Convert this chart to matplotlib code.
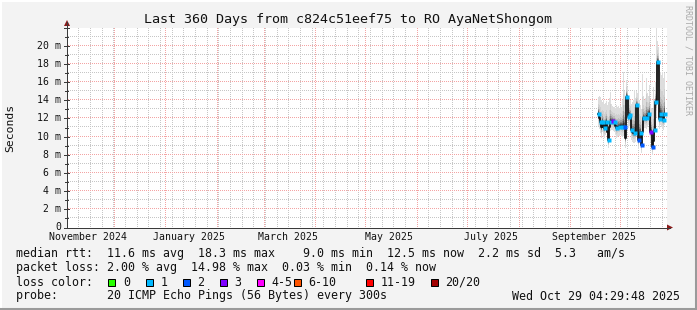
import matplotlib
matplotlib.use('Agg')
import matplotlib.pyplot as plt
import matplotlib.dates as mdates
from matplotlib.patches import Rectangle, Polygon
from matplotlib.lines import Line2D
import numpy as np
import pandas as pd
from datetime import datetime, timedelta

# ---------------- data ----------------
end_time = datetime(2025, 10, 29, 4, 29, 48)
span_days = 360
data_start = '2025-09-18 00:00'
data_step = '864min'   # one graph column (0.6 days)

median_ms = [12.5, 12.0, 11.6, 11.0, 11.6, 11.0, 10.9, 11.3, 11.6, 10.5,
             9.6, 11.0, 11.6, 11.7, 11.7, 11.6, 11.6, 11.2, 10.9, 11.0,
             11.1, 11.1, 11.2, 11.2, 11.1, 11.15, 11.1, 9.8, 14.4, 14.4,
             12.2, 12.4, 12.3, 10.7, 10.5, 10.4, 10.4, 10.4, 13.5, 13.4,
             9.6, 10.3, 10.35, 9.1, 10.5, 12.0, 12.0, 12.0, 12.0, 12.3,
             12.5, 12.5, 10.5, 10.5, 8.9, 9.5, 10.7, 13.8, 13.8, 18.2,
             18.2, 11.9, 12.5, 12.3, 11.9, 11.8, 12.5]
max_ms = [14.4, 14.5, 14.3, 14.0, 13.8, 14.0, 13.6, 13.7, 13.9, 13.5,
          13.8, 14.2, 14.9, 13.6, 13.4, 13.3, 13.3, 13.2, 13.5, 13.3,
          13.4, 13.2, 13.5, 13.3, 14.0, 17.1, 15.0, 13.5, 16.2, 15.5,
          14.5, 14.2, 14.0, 13.6, 13.8, 14.0, 15.1, 14.2, 15.0, 14.8,
          16.0, 14.0, 13.5, 13.0, 16.9, 14.5, 14.0, 14.2, 16.4, 14.8,
          14.5, 15.7, 13.5, 13.2, 13.0, 15.5, 14.0, 16.0, 21.9, 20.5,
          19.9, 15.0, 17.1, 16.8, 17.1, 16.5, 17.0]
min_ms = [11.2, 10.8, 10.4, 9.9, 10.5, 10.0, 9.8, 10.2, 10.4, 9.4,
          8.7, 10.0, 10.6, 10.7, 10.7, 10.6, 10.5, 10.2, 9.9, 10.0,
          10.1, 10.1, 10.2, 10.1, 10.0, 10.1, 10.0, 8.8, 12.8, 12.9,
          11.0, 11.2, 11.1, 9.6, 9.4, 9.3, 9.3, 9.4, 12.0, 12.0,
          8.6, 9.3, 9.3, 8.2, 9.4, 10.8, 10.9, 10.9, 10.8, 11.1,
          11.3, 11.2, 9.4, 9.3, 8.0, 8.5, 9.6, 12.3, 12.2, 16.0,
          15.5, 10.8, 11.3, 11.1, 10.8, 10.7, 11.3]
# loss-coloured marks on the median line (column index, loss class)
mark_idx = [0, 2, 4, 6, 8, 10, 12, 14, 16, 18, 21, 24, 26, 28, 30, 31, 33,
            36, 38, 40, 42, 43, 45, 48, 50, 52, 54, 56, 57, 59, 61, 62, 65, 66]
mark_cls = [1, 1, 1, 1, 1, 1, 1, 3, 1, 1, 1, 1, 2, 1, 1, 1, 1,
            1, 1, 2, 1, 2, 1, 1, 1, 3, 2, 1, 1, 1, 1, 1, 1, 1]

loss_labels = ['0', '1', '2', '3', '4-5', '6-10', '11-19', '20/20']
loss_colors = ['#26ff00', '#00b8ff', '#0059ff', '#7e00ff',
               '#ff00ff', '#ff5500', '#ff0000', '#a10000']

y_tick_values = [0, 2, 4, 6, 8, 10, 12, 14, 16, 18, 20]
x_label_dates = ['2024-11-15 12:00', '2025-01-15 12:00', '2025-03-15 12:00',
                 '2025-05-15 12:00', '2025-07-15 12:00', '2025-09-15 12:00']
x_label_texts = ['November 2024', 'January 2025', 'March 2025',
                 'May 2025', 'July 2025', 'September 2025']

title = 'Last 360 Days from c824c51eef75 to RO AyaNetShongom'
legend_rows = [
    'median rtt:  11.6 ms avg  18.3 ms max    9.0 ms min  12.5 ms now  2.2 ms sd  5.3   am/s',
    'packet loss: 2.00 % avg  14.98 % max  0.03 % min  0.14 % now',
    'loss color:',
    'probe:       20 ICMP Echo Pings (56 Bytes) every 300s',
]
stamp = 'Wed Oct 29 04:29:48 2025'

# ---------------- layout ----------------
W, H = 697, 310
MONO = 'DejaVu Sans Mono'
fig = plt.figure(figsize=(W / 100, H / 100), dpi=100, facecolor='#f3f3f3')

L, R, T, B = 67, 667, 27.5, 227.5
NPX_X, NPX_Y = R - L, int(B - T)
ax = fig.add_axes([L / W, 1 - B / H, (R - L) / W, (B - T) / H])
ax.set_facecolor('white')
start_time = end_time - timedelta(days=span_days)
x0, x1 = mdates.date2num(start_time), mdates.date2num(end_time)
ax.set_xlim(x0, x1)
ax.set_ylim(0, 22)
for s in ax.spines.values():
    s.set_visible(False)
ax.set_xticks([])
ax.set_yticks([])

PX = 0.72  # one pixel in points
MINOR = '#c6c6c6'
MAJOR = '#f3a4a4'
dx = (x1 - x0) / NPX_X
dy = 22 / NPX_Y
dots_x = x0 + (np.arange(0, NPX_X, 2) + 0.5) * dx
dots_y = (np.arange(0, NPX_Y, 2) + 0.5) * dy


def hgrid(v, col, z):
    ax.plot(dots_x, np.full(len(dots_x), v), ',', color=col, zorder=z)


def vgrid(xv, col, z):
    ax.plot(np.full(len(dots_y), xv), dots_y, ',', color=col, zorder=z)


for v in range(1, 23):
    if v % 2 == 0 and v <= 20:
        hgrid(v, MAJOR, 0.6)
    else:
        hgrid(v, MINOR, 0.5)
weeks = pd.date_range(start_time, end_time, freq='W-SUN').normalize()
for d in weeks:
    vgrid(mdates.date2num(d), MINOR, 0.5)
months = pd.date_range(start_time, end_time, freq='MS')
for d in months:
    vgrid(mdates.date2num(d), MAJOR, 0.7)

# ---------------- smoke + median ----------------
xs = pd.date_range(data_start, periods=len(median_ms), freq=data_step)
xn = list(mdates.date2num(xs))
step_num = xn[1] - xn[0]
xe = xn + [xn[-1] + step_num]
med_e = median_ms + [median_ms[-1]]
hi_e = max_ms + [max_ms[-1]]
lo_e = min_ms + [min_ms[-1]]

fracs = [1.0, 0.6, 0.4, 0.28, 0.2, 0.14, 0.09, 0.05, 0.02]
grays = ['#dddddd', '#d0d0d0', '#bdbdbd', '#a3a3a3', '#868686',
         '#676767', '#4a4a4a', '#303030', '#1e1e1e']
for f, g in zip(fracs, grays):
    up = [m + (h - m) * f for m, h in zip(med_e, hi_e)]
    dn = [m - (m - l) * f for m, l in zip(med_e, lo_e)]
    ax.fill_between(xe, dn, up, step='post', color=g, lw=0, zorder=2)

ax.plot(xe, med_e, drawstyle='steps-post', color='#141414', lw=1.3, zorder=3)
for i, c in zip(mark_idx, mark_cls):
    ax.plot([xn[i] + step_num / 2], [median_ms[i]], 's', ms=2.3,
            mec='none', mfc=loss_colors[c], zorder=4)

# ---------------- axes lines, arrows, ticks ----------------
def fline(xp, yp, **kw):
    fig.add_artist(Line2D([v / W for v in xp], [1 - v / H for v in yp],
                          transform=fig.transFigure, **kw))

axis_col = '#3a3a3a'
fline([L, L], [B, 22], color=axis_col, lw=PX)
fline([L - 3, 670], [B, B], color=axis_col, lw=PX)
for v in range(0, 23):
    yp = B - (B - T) * v / 22
    if v % 2 == 0:
        fline([L - 3, L + 2], [yp, yp], color=axis_col, lw=PX)
    else:
        fline([L - 2, L + 1], [yp, yp], color=axis_col, lw=PX)
arrow_col = '#8b1a1a'
fig.add_artist(Polygon([[(L - 3) / W, 1 - 26 / H], [(L + 3) / W, 1 - 26 / H],
                        [L / W, 1 - 20 / H]], closed=True,
                       transform=fig.transFigure, color=arrow_col, lw=0))
fig.add_artist(Polygon([[667 / W, 1 - (B - 3) / H], [667 / W, 1 - (B + 3) / H],
                        [673 / W, 1 - B / H]], closed=True,
                       transform=fig.transFigure, color=arrow_col, lw=0))

# y tick labels
for v in y_tick_values:
    yp = B - (B - T) * v / 22
    lab = '0' if v == 0 else f'{v} m'
    fig.text(61 / W, 1 - yp / H, lab, ha='right', va='center',
             fontsize=7.1, family=MONO, color='#111111')
# x tick labels
for d, t in zip(x_label_dates, x_label_texts):
    xp = L + (R - L) * (mdates.date2num(pd.Timestamp(d)) - x0) / (x1 - x0)
    fig.text(xp / W, 1 - 237.5 / H, t, ha='center', va='center',
             fontsize=7.1, family=MONO, color='#111111')

# title, axis label, watermark
fig.text(348.5 / W, 1 - 19 / H, title, ha='center', va='center',
         fontsize=9.6, family=MONO, color='#111111')
fig.text(10 / W, 1 - 127.5 / H, 'Seconds', ha='center', va='center',
         rotation=90, fontsize=8.2, family=MONO, color='#111111')
fig.text(688 / W, 1 - 5 / H, 'RRDTOOL / TOBI OETIKER', ha='center', va='top',
         rotation=270, fontsize=6, family=MONO, color='#aaaaaa')

# legend rows
row_y = [254, 268, 282, 296]
for txt, yp in zip(legend_rows, row_y):
    fig.text(16 / W, 1 - yp / H, txt, ha='left', va='center',
             fontsize=8.4, family=MONO, color='#111111')
fig.text(680 / W, 1 - 296 / H, stamp, ha='right', va='center',
         fontsize=8.4, family=MONO, color='#111111')
box_x = [108, 145.5, 182.5, 219.5, 256.5, 293.5, 365.5, 430.5]
for bx, lab, col in zip(box_x, loss_labels, loss_colors):
    fig.add_artist(Rectangle((bx / W, 1 - 285.5 / H), 7 / W, 7 / H,
                             transform=fig.transFigure, facecolor=col,
                             edgecolor='black', lw=PX))
    fig.text((bx + 15) / W, 1 - 282 / H, lab, ha='left', va='center',
             fontsize=8.4, family=MONO, color='#111111')

# 3D frame
fline([0, W], [0.5, 0.5], color='white', lw=1.5)
fline([0.5, 0.5], [0, H], color='white', lw=1.5)
fline([0, W], [H - 1.5, H - 1.5], color='#9a9a9a', lw=2.2)
fline([W - 1.5, W - 1.5], [0, H], color='#9a9a9a', lw=2.2)

fig.savefig('out.png', dpi=100, facecolor=fig.get_facecolor())
